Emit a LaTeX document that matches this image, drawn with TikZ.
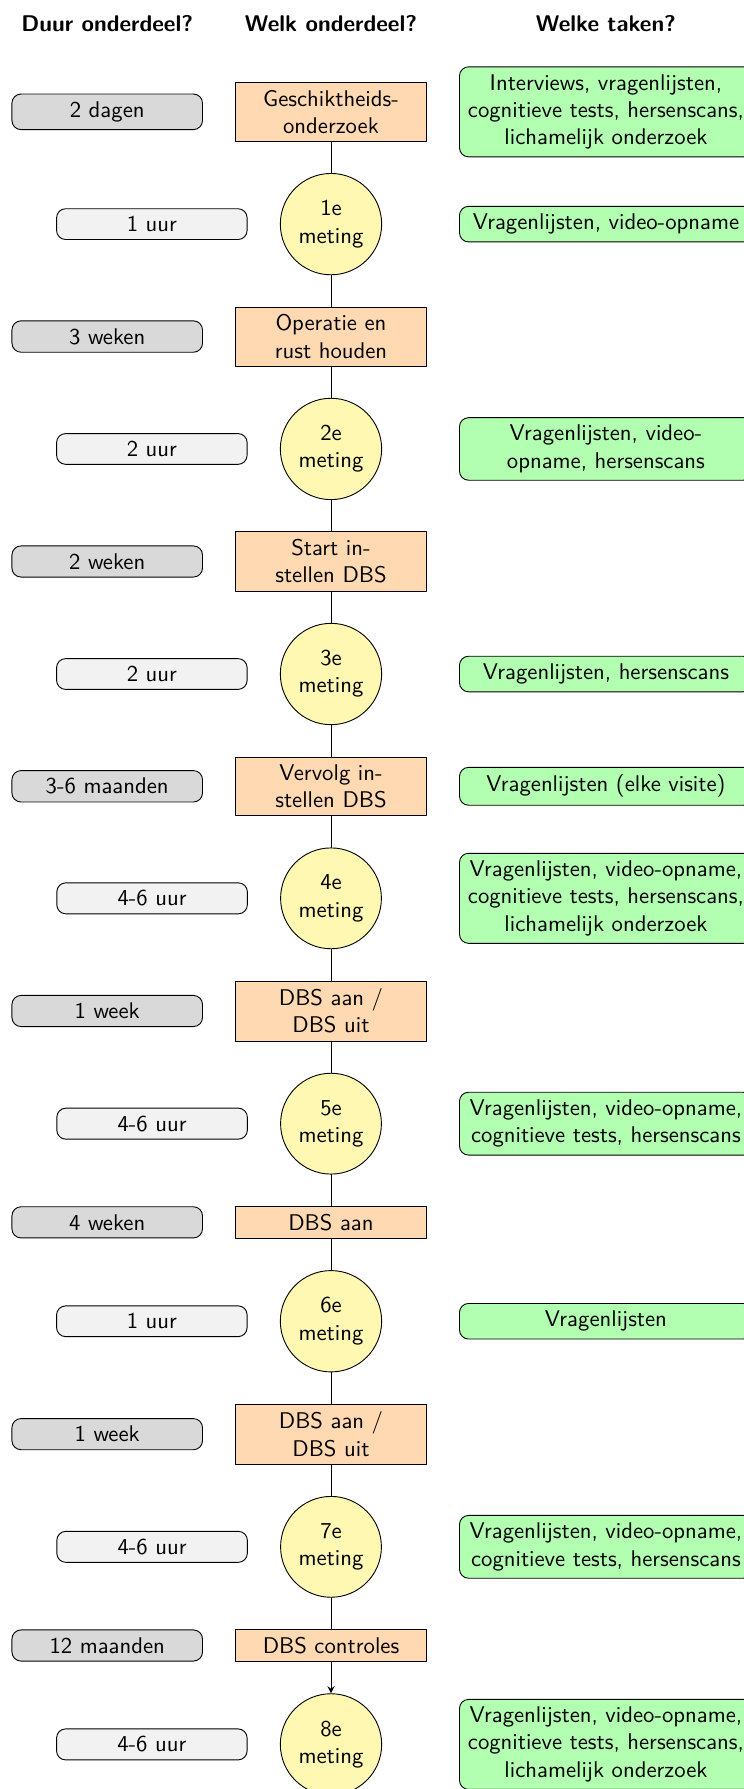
\documentclass[tikz,border=0pt]{standalone}
\usetikzlibrary{positioning}
\definecolor{metinggeel}{RGB}{255,248,178}
\begin{document}
\begin{tikzpicture}[line join=round, line cap=round, >=stealth, node distance=0.5cm]
	\tikzset{every node/.style={font=\sffamily},
		onderdeel/.style={draw, fill=orange!30, minimum width=2.95cm, align=center},
		meting/.style={draw, circle, fill=metinggeel, align=center},
		duur/.style={draw, rounded corners=4pt, fill=gray!30, minimum width=2.95cm},
		tijd/.style={draw, rounded corners=4pt, fill=gray!10, minimum width=2.95cm},
		taak/.style={draw, rounded corners=4pt, fill=green!30, text width=4.3cm, align=center, anchor=west},
		kop/.style={font=\sffamily\bfseries}}
	\def\ketting{0.486cm}
	\useasboundingbox (-5.124,1.731) rectangle ++(11.517,-27.694);
	% middelste kolom
	\node[onderdeel] (o1) at (0,0) {Geschiktheids-\\onderzoek};
	\node[meting, below=\ketting of o1] (m1) {1e\\meting};
	\node[onderdeel, below=\ketting of m1] (o2) {Operatie en\\rust houden};
	\node[meting, below=\ketting of o2] (m2) {2e\\meting};
	\node[onderdeel, below=\ketting of m2] (o3) {Start in-\\stellen DBS};
	\node[meting, below=\ketting of o3] (m3) {3e\\meting};
	\node[onderdeel, below=\ketting of m3] (o4) {Vervolg in-\\stellen DBS};
	\node[meting, below=\ketting of o4] (m4) {4e\\meting};
	\node[onderdeel, below=\ketting of m4] (o5) {DBS aan /\\DBS uit};
	\node[meting, below=\ketting of o5] (m5) {5e\\meting};
	\node[onderdeel, below=\ketting of m5] (o6) {DBS aan};
	\node[meting, below=\ketting of o6] (m6) {6e\\meting};
	\node[onderdeel, below=\ketting of m6] (o7) {DBS aan /\\DBS uit};
	\node[meting, below=\ketting of o7] (m7) {7e\\meting};
	\node[onderdeel, below=\ketting of m7] (o8) {DBS controles};
	\node[meting, below=\ketting of o8] (m8) {8e\\meting};
	\foreach \a/\b in {o1/m1,m1/o2,o2/m2,m2/o3,o3/m3,m3/o4,o4/m4,m4/o5,o5/m5,m5/o6,o6/m6,m6/o7,o7/m7,m7/o8}\draw (\a)--(\b);
	\draw[->] (o8)--(m8);
	% duur
	\foreach \n/\t in {o1/2 dagen,o2/3 weken,o3/2 weken,o4/3-6 maanden,o5/1 week,o6/4 weken,o7/1 week,o8/12 maanden}\node[duur, left=of \n] (d\n) {\t};
	\foreach \n/\t in {m1/1 uur,m2/2 uur,m3/2 uur,m4/4-6 uur,m5/4-6 uur,m6/1 uur,m7/4-6 uur,m8/4-6 uur}\node[tijd, left=of \n] (d\n) {\t};
	% taken
	\coordinate (kolom) at ([xshift=0.5cm]o1.east);
	\foreach \n/\t in {o1/{Interviews, vragenlijsten,\\cognitieve tests, hersenscans,\\lichamelijk onderzoek},
		m1/{Vragenlijsten, video-opname},
		m2/{Vragenlijsten, video-\\opname, hersenscans},
		m3/{Vragenlijsten, hersenscans},
		o4/{Vragenlijsten (elke visite)},
		m4/{Vragenlijsten, video-opname,\\cognitieve tests, hersenscans,\\lichamelijk onderzoek},
		m5/{Vragenlijsten, video-opname,\\cognitieve tests, hersenscans},
		m6/{Vragenlijsten},
		m7/{Vragenlijsten, video-opname,\\cognitieve tests, hersenscans},
		m8/{Vragenlijsten, video-opname,\\cognitieve tests, hersenscans,\\lichamelijk onderzoek}}\node[taak] (k\n) at (kolom |- \n) {\t};
	% koppen
	\node[kop, above=0.65cm of o1] (hwelk) {Welk onderdeel?};
	\node[kop] (hduur) at (do1 |- hwelk) {Duur onderdeel?};
	\node[kop] (htaak) at (ko1 |- hwelk) {Welke taken?};
\end{tikzpicture}
\end{document}
